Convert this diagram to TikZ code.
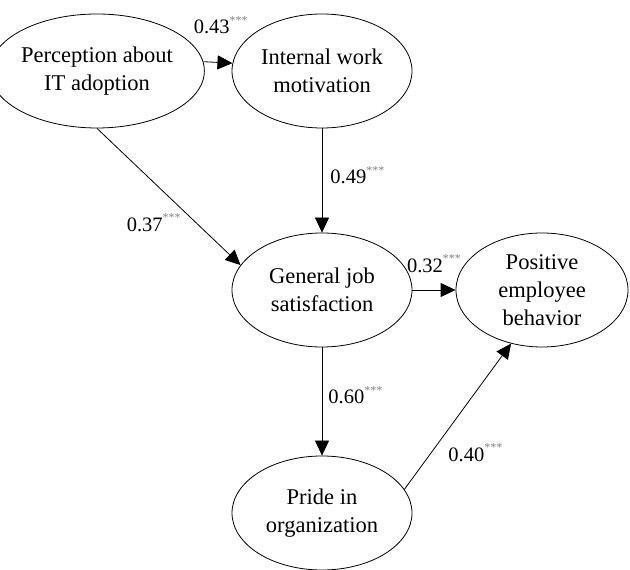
\documentclass[tikz,border=0pt]{standalone}
\usepackage{fontspec}
\setmainfont{Liberation Serif}
\usepackage{xcolor}
\usepackage{tikz}
\usetikzlibrary{shapes,arrows.meta,positioning}

\newcommand{\stars}{\raisebox{9.5pt}{\fontsize{12}{12}\selectfont\color{gray}***}}

\begin{document}
\begin{tikzpicture}[x=1pt, y=1pt,
    >={Triangle[length=15pt,width=14pt]},
    latent/.style={ellipse, draw, line width=0.8pt, inner sep=0pt, on grid, minimum width=180pt, minimum height=114pt, align=center, font=\fontsize{22.5}{28}\selectfont},
    coef/.style={inner sep=0pt, font=\fontsize{20.5}{22}\selectfont},
    link/.style={->, line width=0.8pt}]
    \useasboundingbox (0,0) rectangle (630,570);

    \node [latent] (perc) at (97,499) {Perception about\\IT adoption};
    \node [latent, right=225pt of perc] (intw) {Internal work\\motivation};
    \node [latent, below=219pt of intw] (gjs) {General job\\satisfaction};
    \node [latent, minimum width=172pt, right=220pt of gjs] (peb) {Positive\\employee\\behavior};
    \node [latent, below=223pt of gjs] (pride) {Pride in\\organization};

    \draw [link] (perc.5) -- node [coef, pos=.6, above=28pt] {0.43\stars} (intw.175);
    \draw [link] (intw) -- node [coef, pos=.45, right=8pt] {0.49\stars} (gjs);
    \draw [link] (perc.south) -- node [coef, pos=.69, left=15pt] {0.37\stars} (gjs.163);
    \draw [link] (gjs) -- node [coef, above=17pt] {0.32\stars} (peb);
    \draw [link] (gjs) -- node [coef, pos=.44, right=6pt] {0.60\stars} (pride);
    \draw [link] (pride.16) -- node [coef, pos=.25, right=17pt] {0.40\stars} (peb.240);
\end{tikzpicture}
\end{document}
